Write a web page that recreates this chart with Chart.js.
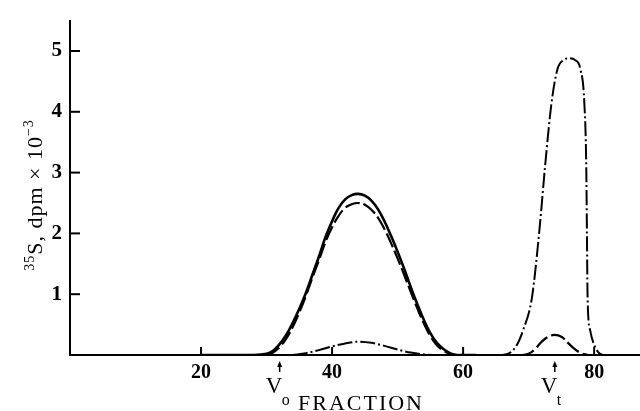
<!DOCTYPE html>
<html>
<head>
<meta charset="utf-8">
<script src="https://cdn.jsdelivr.net/npm/chart.js@4.4.0/dist/chart.umd.min.js"></script>
<style>
  html, body { margin: 0; padding: 0; background: #fff; }
</style>
</head>
<body>
<canvas id="chart" width="640" height="411"></canvas>
<script>
// solid curve (first peak only)
const solidFrac = [20, 28, 30, 31, 32, 33, 34, 35, 36, 37, 38, 39, 40, 41, 42, 43, 44, 45, 46, 47, 48, 49, 50, 51, 52, 53, 54, 55, 56, 57, 58, 59, 62];
const solidVal  = [0, 0, 0.02, 0.07, 0.18, 0.33, 0.53, 0.76, 1.02, 1.32, 1.62, 1.94, 2.2, 2.42, 2.56, 2.63, 2.65, 2.62, 2.54, 2.4, 2.2, 1.96, 1.7, 1.42, 1.12, 0.84, 0.58, 0.36, 0.2, 0.1, 0.03, 0, 0];

// long dashes
const dashFrac = [30, 31, 32, 33, 34, 35, 36, 37, 38, 39, 40, 41, 42, 43, 44, 45, 46, 47, 48, 49, 50, 51, 52, 53, 54, 55, 56, 57, 58, 59, 69, 70, 71, 72, 73, 74, 75, 76, 77, 78, 79];
const dashVal  = [0, 0.04, 0.13, 0.27, 0.46, 0.7, 0.97, 1.27, 1.56, 1.86, 2.1, 2.29, 2.42, 2.48, 2.5, 2.47, 2.39, 2.26, 2.07, 1.84, 1.59, 1.32, 1.04, 0.77, 0.52, 0.31, 0.16, 0.07, 0.02, 0, 0, 0.02, 0.1, 0.22, 0.3, 0.33, 0.3, 0.2, 0.1, 0.03, 0];

// dash-dot
const dotFrac = [34, 36, 38, 40, 42, 44, 46, 48, 50, 52, 54, 56, 62, 66, 68, 69.2, 70.5, 71.6, 72.5, 73.5, 74.4, 75.3, 76.2, 77.1, 77.9, 78.5, 78.8, 78.9, 79.0, 79.4, 80.2, 81.4, 84];
const dotVal  = [0, 0.03, 0.08, 0.14, 0.19, 0.22, 0.2, 0.15, 0.09, 0.04, 0.01, 0, 0, 0, 0.13, 0.42, 0.94, 2.0, 3.09, 4.15, 4.7, 4.85, 4.88, 4.85, 4.7, 4.15, 3.09, 2.0, 0.94, 0.4, 0.12, 0, 0];

const xTicks = [20, 40, 60, 80];
const yTicks = [1, 2, 3, 4, 5];
const markers = [{ at: 32, sub: 'o' }, { at: 74, sub: 't' }];

const zip = (xs, ys) => xs.map((x, i) => ({ x: x, y: ys[i] }));

const serif = '"Liberation Serif", "DejaVu Serif", serif';

const extras = {
  id: 'extras',
  afterDraw(chart) {
    const { ctx, chartArea, scales: { x, y } } = chart;
    ctx.save();
    ctx.strokeStyle = '#000';
    ctx.fillStyle = '#000';
    ctx.lineWidth = 2;

    // inward tick marks
    xTicks.forEach(v => {
      const px = x.getPixelForValue(v);
      ctx.beginPath();
      ctx.moveTo(px, chartArea.bottom);
      ctx.lineTo(px, chartArea.bottom - 8);
      ctx.stroke();
    });
    yTicks.forEach(v => {
      const py = y.getPixelForValue(v);
      ctx.beginPath();
      ctx.moveTo(chartArea.left, py);
      ctx.lineTo(chartArea.left + 10, py);
      ctx.stroke();
    });

    // Vo / Vt arrows
    markers.forEach(m => {
      const px = x.getPixelForValue(m.at);
      ctx.lineWidth = 1.5;
      ctx.beginPath();
      ctx.moveTo(px, 372);
      ctx.lineTo(px, 364);
      ctx.stroke();
      ctx.beginPath();
      ctx.moveTo(px, 361);
      ctx.lineTo(px - 2.5, 367);
      ctx.lineTo(px + 2.5, 367);
      ctx.closePath();
      ctx.fill();
      ctx.font = '23px ' + serif;
      ctx.textAlign = 'left';
      ctx.textBaseline = 'alphabetic';
      ctx.fillText('V', px - 14, 393);
      ctx.font = '16px ' + serif;
      ctx.fillText(m.sub, px + 2, 405);
    });

    // x title
    ctx.font = '22px ' + serif;
    ctx.textAlign = 'center';
    ctx.letterSpacing = '2px';
    ctx.fillText('FRACTION', 361, 410);
    ctx.letterSpacing = '0px';

    // y title with superscripts
    const parts = [
      { t: '35', f: '14px ' + serif, dy: -8 },
      { t: 'S, dpm \u00d7 10', f: '22px ' + serif, dy: 0 },
      { t: '\u22123', f: '14px ' + serif, dy: -9 }
    ];
    let total = 0;
    ctx.letterSpacing = '1px';
    parts.forEach(p => { ctx.font = p.f; p.w = ctx.measureText(p.t).width; total += p.w; });
    ctx.translate(42, 195);
    ctx.rotate(-Math.PI / 2);
    ctx.textAlign = 'left';
    let cx = -total / 2;
    parts.forEach(p => {
      ctx.font = p.f;
      ctx.fillText(p.t, cx, p.dy);
      cx += p.w;
    });
    ctx.restore();
  }
};

const lineStyle = {
  borderColor: '#000',
  pointRadius: 0,
  fill: false
};

new Chart(document.getElementById('chart'), {
  type: 'line',
  data: {
    datasets: [
      Object.assign({ data: zip(solidFrac, solidVal), borderWidth: 2.6, tension: 0.4 }, lineStyle),
      Object.assign({ data: zip(dashFrac, dashVal), borderWidth: 2.2, borderDash: [15, 4], tension: 0.4 }, lineStyle),
      Object.assign({ data: zip(dotFrac, dotVal), borderWidth: 2, borderDash: [15, 3, 2, 3], cubicInterpolationMode: 'monotone' }, lineStyle)
    ]
  },
  options: {
    responsive: false,
    animation: false,
    devicePixelRatio: 1,
    layout: { padding: { top: 13, right: 0, left: 0, bottom: 0 } },
    plugins: {
      legend: { display: false },
      tooltip: { enabled: false }
    },
    scales: {
      x: {
        type: 'linear',
        min: 0,
        max: 87,
        afterFit: s => { s.height = 56; },
        afterBuildTicks: s => { s.ticks = xTicks.map(v => ({ value: v })); },
        grid: { display: false, drawTicks: false },
        border: { display: true, color: '#000', width: 2 },
        ticks: {
          color: '#000',
          padding: 6,
          maxRotation: 0,
          autoSkip: false,
          font: { family: serif, size: 20, weight: 'bold' }
        }
      },
      y: {
        min: 0,
        max: 5.5,
        afterFit: s => { s.width = 70; },
        afterBuildTicks: s => { s.ticks = yTicks.map(v => ({ value: v })); },
        grid: { display: false, drawTicks: false },
        border: { display: true, color: '#000', width: 2 },
        ticks: {
          color: '#000',
          padding: 8,
          font: { family: serif, size: 21, weight: 'bold' }
        }
      }
    }
  },
  plugins: [extras]
});
</script>
</body>
</html>
